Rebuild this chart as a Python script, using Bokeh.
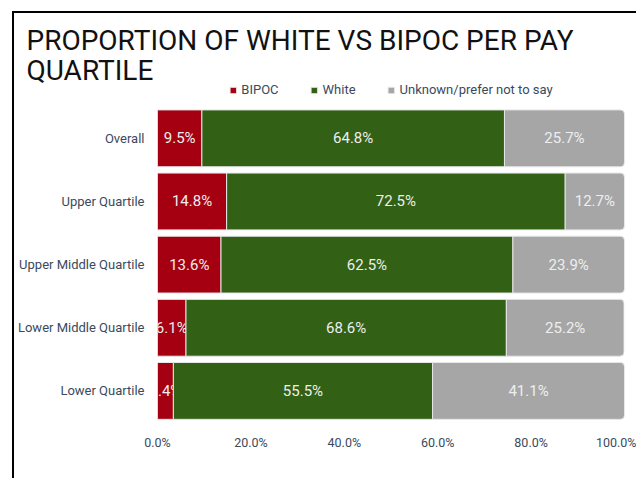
from bokeh.plotting import figure
from bokeh.models import ColumnDataSource, Range1d, Legend, LegendItem, Title, CustomJSTickFormatter, FixedTicker
from bokeh.core.properties import value
from bokeh.embed import file_html
from bokeh.resources import INLINE

categories = ["Overall", "Upper Quartile", "Upper Middle Quartile", "Lower Middle Quartile", "Lower Quartile"]
bipoc = [9.5, 14.8, 13.6, 6.1, 3.4]
white = [64.8, 72.5, 62.5, 68.6, 55.5]
unknown = [25.7, 12.7, 23.9, 25.2, 41.1]
series_names = ["BIPOC", "White", "Unknown/prefer not to say"]
x_ticks = [0, 20, 40, 60, 80, 100]

colors = ["#a50011", "#326015", "#a6a6a6"]
FONT = "Roboto"
TXT = "#3a4a5c"

n = len(categories)
ypos = [n - 1 - i for i in range(n)]  # first category on top

p = figure(width=624, height=467,
           y_range=Range1d(-0.5, n - 0.5 + 0.4),
           x_range=Range1d(0, 100),
           output_backend="svg", toolbar_location=None,
           min_border_left=100, min_border_right=14,
           min_border_top=68, min_border_bottom=58)
p.margin = (11, 0, 0, 12)
p.styles = {"border-left": "2px solid #000", "border-top": "2px solid #000"}
p.outline_line_color = None
p.xgrid.grid_line_color = None
p.ygrid.grid_line_color = None

lefts, rights = [], []
acc = [0.0] * n
for vals in (bipoc, white, unknown):
    l = list(acc)
    r = [a + v for a, v in zip(acc, vals)]
    lefts.append(l)
    rights.append(r)
    acc = r

items = []
for i, name in enumerate(series_names):
    src = ColumnDataSource(dict(y=ypos, left=lefts[i], right=rights[i]))
    kw = {}
    if i == 2:
        kw["border_radius"] = (0, 4, 4, 0)
    r = p.hbar(y="y", left="left", right="right", height=0.9, source=src,
               fill_color=colors[i], line_color="#e6e6e6", line_width=1, **kw)
    items.append(LegendItem(label=name, renderers=[r]))

    mids = [(a + b) / 2 for a, b in zip(lefts[i], rights[i])]
    labels = [f"{v:.1f}%" for v in (bipoc, white, unknown)[i]]
    tsrc = ColumnDataSource(dict(x=mids, y=ypos, t=labels))
    p.text(x="x", y="y", text="t", source=tsrc, text_align="center", text_baseline="middle",
           text_font=value(FONT), text_font_size="15px", text_color="#eeeeee")

legend = Legend(items=items, orientation="horizontal", location="top_center",
                label_text_font=FONT, label_text_font_size="13px", label_text_color=TXT,
                glyph_width=8, glyph_height=8, spacing=31, padding=0, margin=1,
                border_line_color=None, background_fill_alpha=0, label_standoff=5)
p.add_layout(legend, "center")

p.title = Title(text="PROPORTION OF WHITE VS BIPOC PER PAY\nQUARTILE", text_font=FONT,
                text_font_size="28px", text_font_style="normal", text_color="#111111",
                align="left", offset=-131, standoff=-11, text_line_height=0.91)

p.xaxis.ticker = x_ticks
p.xaxis.formatter = CustomJSTickFormatter(code="return tick.toFixed(1) + '%'")
p.yaxis.ticker = FixedTicker(ticks=ypos)
p.yaxis.major_label_overrides = {y: c for y, c in zip(ypos, categories)}
for ax in (p.xaxis[0], p.yaxis[0]):
    ax.axis_line_color = None
    ax.major_tick_line_color = None
    ax.minor_tick_line_color = None
    ax.major_label_text_font = FONT
    ax.major_label_text_color = TXT
p.xaxis.major_label_text_font_size = "12.5px"
p.yaxis.major_label_text_font_size = "13px"
p.yaxis.major_label_standoff = 7
p.xaxis.major_label_standoff = 6

open("out.html", "w").write(file_html(p, INLINE))
